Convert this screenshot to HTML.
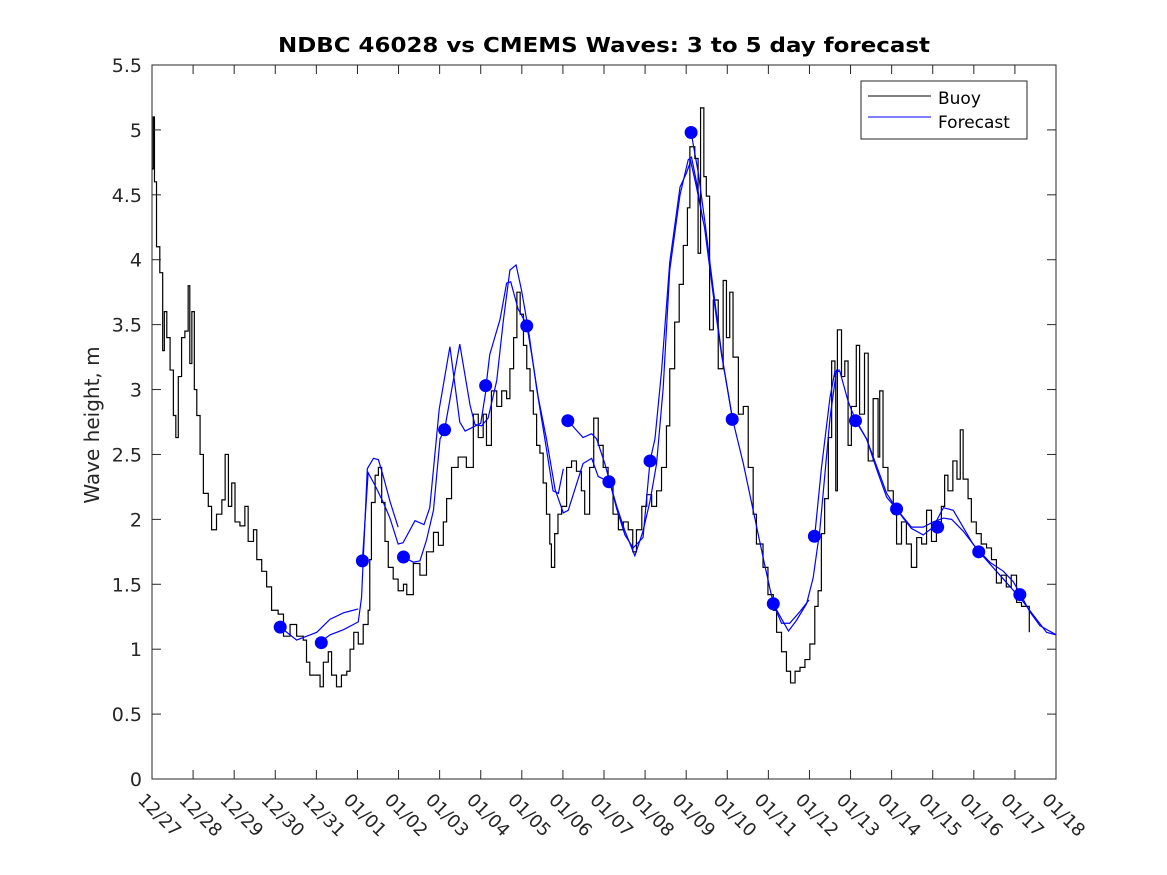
<!DOCTYPE html>
<html><head><meta charset="utf-8"><style>
html,body{margin:0;padding:0;background:#fff;}
svg{display:block;font-family:"DejaVu Sans","Liberation Sans",sans-serif;}
</style></head><body>
<svg id="chart" width="1167" height="875" viewBox="0 0 1167 875" xmlns="http://www.w3.org/2000/svg">
<rect x="0" y="0" width="1167" height="875" fill="#fff"/>
<text x="604" y="52" text-anchor="middle" font-size="20" font-weight="bold" fill="#000" textLength="652" lengthAdjust="spacingAndGlyphs">NDBC 46028 vs CMEMS Waves: 3 to 5 day forecast</text>
<text x="0" y="0" transform="translate(99,425) rotate(-90)" text-anchor="middle" font-size="20" fill="#262626">Wave height, m</text>
<g id="plot"></g>
<g>
<rect x="861" y="81" width="166" height="58" fill="#fff" stroke="#262626" stroke-width="1"/>
<line x1="868" y1="96" x2="931" y2="96" stroke="#000" stroke-width="1"/>
<text x="938" y="104" font-size="17" fill="#000">Buoy</text>
<line x1="868" y1="117" x2="931" y2="117" stroke="#0000ff" stroke-width="1"/>
<text x="938" y="128" font-size="17" fill="#000">Forecast</text>
</g>
</svg>
<script>
const xTickLabels=["12/27","12/28","12/29","12/30","12/31","01/01","01/02","01/03","01/04","01/05","01/06","01/07","01/08","01/09","01/10","01/11","01/12","01/13","01/14","01/15","01/16","01/17","01/18"];
const yTicks=[0,0.5,1,1.5,2,2.5,3,3.5,4,4.5,5,5.5];
const yTickLabels=["0","0.5","1","1.5","2","2.5","3","3.5","4","4.5","5","5.5"];
const buoyDays=[0,0.03,0.06,0.11,0.19,0.26,0.3,0.36,0.44,0.52,0.58,0.64,0.72,0.8,0.88,0.92,0.97,1.03,1.09,1.17,1.25,1.37,1.45,1.57,1.7,1.78,1.86,1.94,2.02,2.14,2.26,2.34,2.47,2.55,2.67,2.79,2.91,3.07,3.2,3.36,3.52,3.68,3.76,3.84,4.01,4.09,4.17,4.29,4.37,4.49,4.61,4.74,4.82,4.91,5.02,5.14,5.26,5.3,5.34,5.43,5.51,5.59,5.67,5.75,5.87,5.99,6.12,6.2,6.36,6.52,6.68,6.85,6.97,7.09,7.17,7.29,7.45,7.49,7.65,7.82,7.94,8.06,8.14,8.26,8.39,8.51,8.63,8.71,8.8,8.88,8.96,9.04,9.12,9.2,9.28,9.36,9.44,9.52,9.6,9.68,9.72,9.8,9.88,9.97,10.09,10.21,10.33,10.45,10.53,10.65,10.75,10.86,10.98,11.1,11.22,11.35,11.47,11.59,11.7,11.79,11.92,12.04,12.16,12.28,12.4,12.52,12.6,12.72,12.83,12.93,13.03,13.09,13.21,13.29,13.35,13.43,13.49,13.57,13.66,13.78,13.9,13.98,14.06,14.14,14.27,14.39,14.51,14.63,14.71,14.87,14.99,15.12,15.2,15.32,15.44,15.54,15.65,15.77,15.89,16.01,16.13,16.21,16.29,16.37,16.46,16.54,16.62,16.64,16.68,16.78,16.86,16.94,17.02,17.14,17.22,17.34,17.43,17.55,17.67,17.71,17.79,17.91,18.04,18.12,18.24,18.36,18.48,18.61,18.73,18.85,18.97,19.09,19.21,19.29,19.37,19.49,19.59,19.67,19.74,19.86,19.94,20.06,20.18,20.31,20.43,20.55,20.67,20.79,20.91,21.04,21.16,21.27,21.35];
const buoyValues=[4.7,5.1,4.6,4.1,3.9,3.3,3.6,3.4,3.15,2.8,2.63,3.1,3.4,3.45,3.8,3.2,3.6,3.0,2.8,2.5,2.2,2.1,1.92,2.04,2.15,2.5,2.1,2.28,1.98,1.95,2.1,1.83,1.92,1.69,1.6,1.48,1.3,1.27,1.1,1.19,1.1,1.07,0.9,0.8,0.8,0.71,0.9,0.98,0.8,0.71,0.8,0.83,1.0,1.13,1.04,1.19,1.3,1.69,2.13,2.34,2.4,2.13,1.83,1.63,1.54,1.45,1.5,1.42,1.66,1.57,1.75,1.9,1.8,1.98,2.16,2.4,2.48,2.48,2.4,2.81,2.63,2.81,2.57,2.99,2.87,2.99,2.93,3.16,3.4,3.75,3.58,3.34,3.16,2.99,2.81,2.57,2.51,2.28,2.04,1.81,1.63,1.89,2.04,2.1,2.4,2.45,2.37,2.22,2.04,2.4,2.78,2.57,2.4,2.28,2.04,1.92,1.98,1.92,1.75,1.92,2.1,2.19,2.1,2.22,2.4,2.72,3.16,3.52,3.81,4.11,4.4,4.87,4.78,4.05,5.17,4.64,4.49,3.46,3.69,3.16,3.84,3.4,3.75,3.25,2.81,2.87,2.4,2.04,1.81,1.63,1.42,1.3,1.13,0.98,0.83,0.74,0.83,0.86,0.92,1.04,1.33,1.45,1.89,2.16,2.63,3.22,3.1,2.22,3.46,3.1,3.22,2.57,2.87,3.34,2.81,3.28,2.45,2.93,2.48,2.99,2.4,2.22,2.04,1.81,1.98,1.81,1.63,1.86,1.81,2.07,1.83,1.98,2.1,2.34,2.22,2.45,2.31,2.69,2.31,2.16,1.98,1.89,1.81,1.78,1.69,1.51,1.57,1.48,1.57,1.36,1.33,1.33,1.13];
const forecastSeg1=[[3.12,1.17],[3.52,1.07],[4.01,1.13],[4.33,1.23],[4.66,1.28],[4.90,1.30],[5.02,1.31]];
const forecastSeg2=[[4.12,1.06],[4.33,1.11],[4.66,1.15],[4.90,1.19],[5.02,1.21],[5.10,1.40],[5.24,2.39],[5.39,2.47],[5.51,2.46],[5.63,2.33],[5.79,2.14],[5.99,1.94]];
const forecastSeg3=[[5.12,1.68],[5.26,2.36],[5.43,2.26],[5.63,2.13],[5.79,2.01],[5.99,1.81],[6.11,1.82],[6.40,1.99],[6.62,1.96],[6.76,2.09],[6.99,2.85],[7.25,3.33],[7.49,2.75],[7.62,2.68],[8.00,2.74],[8.14,3.02]];
const forecastSeg4=[[6.12,1.71],[6.36,1.67],[6.52,1.68],[6.68,1.84],[6.85,2.07],[7.01,2.62],[7.12,2.69],[7.49,3.35],[7.74,2.88],[7.86,2.73],[8.02,2.72],[8.18,2.78],[8.39,3.07],[8.55,3.53],[8.71,3.92],[8.86,3.96],[8.99,3.77],[9.16,3.46],[9.36,3.01],[9.56,2.62],[9.76,2.22],[9.89,2.20],[10.01,2.39]];
const forecastSeg5=[[8.13,3.03],[8.22,3.27],[8.47,3.54],[8.63,3.82],[8.73,3.83],[8.91,3.62],[9.12,3.50],[9.24,3.27],[9.40,2.94],[9.60,2.62],[9.81,2.23],[10.01,2.05],[10.13,2.07],[10.33,2.27],[10.49,2.43],[10.70,2.47],[10.86,2.33],[11.06,2.30]];
const forecastSeg6=[[10.13,2.76],[10.29,2.70],[10.49,2.63],[10.70,2.66],[10.82,2.62],[11.02,2.43],[11.13,2.30],[11.31,2.10],[11.51,1.91],[11.75,1.72],[11.95,1.91],[12.12,2.14],[12.28,2.43],[12.44,3.01],[12.60,3.92],[12.85,4.50],[13.05,4.77],[13.13,4.79],[13.25,4.60],[13.41,4.30]];
const forecastSeg7=[[11.13,2.30],[11.31,2.08],[11.51,1.88],[11.71,1.78],[11.95,1.86],[12.12,2.45],[12.24,2.62],[12.40,3.14],[12.60,3.98],[12.85,4.56],[13.01,4.67],[13.11,4.76],[13.25,4.56],[13.45,4.24],[13.65,3.75],[13.86,3.27],[14.13,2.77]];
const forecastSeg8=[[13.12,4.98],[13.30,4.66],[13.46,4.28],[13.66,3.77],[13.87,3.26],[14.13,2.77],[14.39,2.43],[14.63,2.07],[14.91,1.65],[15.12,1.35],[15.32,1.20],[15.52,1.20],[15.77,1.29],[15.99,1.38]];
const forecastSeg9=[[15.12,1.35],[15.31,1.24],[15.49,1.14],[15.68,1.22],[15.93,1.35],[16.09,1.55],[16.25,1.91],[16.50,2.78],[16.66,3.15],[16.74,3.15]];
const forecastSeg10=[[16.13,1.88],[16.29,2.39],[16.50,2.94],[16.62,3.14],[16.74,3.14],[16.94,2.91],[17.14,2.75],[17.39,2.62],[17.63,2.39],[17.88,2.17],[18.12,2.08],[18.28,2.01],[18.48,1.93],[18.77,1.88],[19.01,1.94],[19.26,2.09],[19.50,2.07],[19.74,1.94],[19.98,1.81],[20.15,1.75],[20.39,1.67],[20.72,1.60],[20.96,1.52],[21.14,1.42],[21.36,1.29],[21.61,1.18],[22.01,1.11]];
const forecastSeg11=[[17.12,2.77],[17.39,2.62],[17.88,2.20],[18.12,2.08],[18.48,1.94],[18.77,1.94],[19.01,1.98],[19.26,2.01],[19.46,2.00],[19.74,1.91],[20.13,1.75],[21.14,1.39],[21.77,1.13],[22.01,1.11]];
const dotDays=[3.12,4.12,5.12,6.12,7.12,8.12,9.12,10.12,11.12,12.12,13.12,14.12,15.12,16.12,17.12,18.12,19.12,20.12,21.12];
const dotValues=[1.17,1.05,1.68,1.71,2.69,3.03,3.49,2.76,2.29,2.45,4.98,2.77,1.35,1.87,2.76,2.08,1.94,1.75,1.42];

const L=152,R=1056,T=65,B=779,XMAX=22,YMAX=5.5;
function xs(d){return L+(R-L)*d/XMAX;}
function ys(v){return B-(B-T)*v/YMAX;}
const NS="http://www.w3.org/2000/svg";
const g=document.getElementById('plot');
function mk(tag,attrs){const e=document.createElementNS(NS,tag);for(const k in attrs)e.setAttribute(k,attrs[k]);return e;}

const bg=mk('rect',{x:L,y:T,width:R-L,height:B-T,fill:'#fff',stroke:'#262626','stroke-width':1});


g.appendChild(bg);

let d='';
buoyValues.forEach((v,i)=>{const x=xs(buoyDays[i]),y=ys(v);
 if(i===0)d+='M'+x+' '+y;else d+=' H'+x+' V'+y;});
const bp=mk('path',{d:d,fill:'none',stroke:'#000','stroke-width':1.2});


g.appendChild(bp);

const segs=[forecastSeg1,forecastSeg2,forecastSeg3,forecastSeg4,forecastSeg5,forecastSeg6,forecastSeg7,forecastSeg8,forecastSeg9,forecastSeg10,forecastSeg11];
segs.forEach((s,k)=>{
 const p=mk('polyline',{points:s.map(q=>xs(q[0])+','+ys(q[1])).join(' '),fill:'none',stroke:'#0000ff','stroke-width':1.2});
 
 
 g.appendChild(p);
});
dotDays.forEach((dd,i)=>{
 const c=mk('circle',{cx:xs(dd),cy:ys(dotValues[i]),r:6.5,fill:'#0000ff'});
 
 
 g.appendChild(c);
});

yTicks.forEach((v,i)=>{
 const y=ys(v);
 g.appendChild(mk('line',{x1:L,y1:y,x2:L+9,y2:y,stroke:'#262626','stroke-width':1}));
 g.appendChild(mk('line',{x1:R,y1:y,x2:R-9,y2:y,stroke:'#262626','stroke-width':1}));
 const t=mk('text',{x:L-10,y:y+7,'text-anchor':'end','font-size':19,fill:'#262626'});
 t.textContent=yTickLabels[i];
 
 
 g.appendChild(t);
});
xTickLabels.forEach((lab,i)=>{
 const x=xs(i);
 g.appendChild(mk('line',{x1:x,y1:B,x2:x,y2:B-9,stroke:'#262626','stroke-width':1}));
 g.appendChild(mk('line',{x1:x,y1:T,x2:x,y2:T+9,stroke:'#262626','stroke-width':1}));
 const t=mk('text',{x:0,y:0,transform:'translate('+(x-15)+','+(B+22)+') rotate(45)','text-anchor':'start','font-size':18,fill:'#262626'});
 t.textContent=lab;
 
 
 g.appendChild(t);
});
</script>
</body></html>
